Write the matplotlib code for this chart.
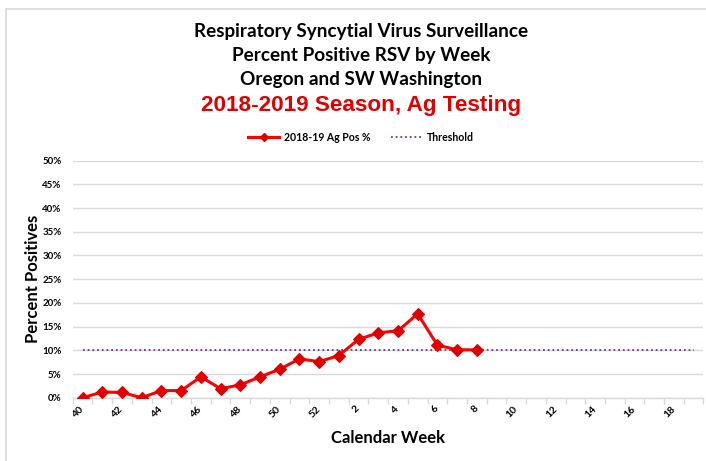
import matplotlib
matplotlib.use('Agg')
import matplotlib.pyplot as plt
from matplotlib.patches import Rectangle
from matplotlib.lines import Line2D
from matplotlib.ticker import FixedLocator, PercentFormatter
import numpy as np

weeks = list(range(40, 53)) + list(range(1, 20))
pos_pct = [0.0, 1.2, 1.1, 0.0, 1.5, 1.5, 4.4, 1.9, 2.7, 4.4, 6.0, 8.2, 7.6,
           8.9, 12.3, 13.7, 14.1, 17.7, 11.1, 10.1, 10.1]
threshold = 10.0
yticks = list(range(0, 51, 5))

plt.rcParams['font.family'] = ['Lato', 'DejaVu Sans']

fig = plt.figure(figsize=(7.06, 4.61), dpi=100)
W, H = 706, 461

# outer light border
fig.patches.append(Rectangle((5.5 / W, -0.1), 1.2, 1 - 8.5 / H + 0.1,
                             transform=fig.transFigure, fill=False,
                             ec='#d9d9d9', lw=1.2))

ax = fig.add_axes([72.7 / W, 1 - 397.7 / H, (703.5 - 72.7) / W, (397.7 - 160.7) / H])
x = np.arange(len(weeks))
ax.set_xlim(-0.5, len(weeks) - 0.5)
ax.set_ylim(0, 50)

ax.plot(x, [threshold] * len(weeks), color='#7030a0', lw=1.3,
        ls=(0, (1, 1.6)), zorder=2)
ax.plot(x[:len(pos_pct)], pos_pct, color='#ff0000', lw=2.2, marker='D',
        ms=6.3, mfc='#e00000', mec='#e00000', mew=0.8, zorder=3)

ax.set_yticks(yticks)
ax.yaxis.set_major_formatter(PercentFormatter(decimals=0))
ax.grid(axis='y', color='#d9d9d9', lw=1)
ax.set_axisbelow(True)
ax.tick_params(axis='y', length=0, pad=8, labelsize=7)
for lbl in ax.get_yticklabels():
    lbl.set_fontweight('bold')

ax.set_xticks(x[::2])
ax.set_xticklabels([str(w) for w in weeks[::2]], rotation=45, ha='right',
                   va='center', rotation_mode='anchor', fontsize=7.5,
                   fontweight='bold')
ax.tick_params(axis='x', which='major', length=0, pad=7)
ax.xaxis.set_minor_locator(FixedLocator(np.arange(-0.5, len(weeks), 1)))
ax.tick_params(axis='x', which='minor', length=4, color='#d9d9d9', width=1)

for s in ['top', 'right', 'left']:
    ax.spines[s].set_visible(False)
ax.spines['bottom'].set_color('#d9d9d9')
ax.spines['bottom'].set_linewidth(1)

ax.set_ylabel('Percent Positives', fontsize=12, fontweight='bold', labelpad=1)
ax.set_xlabel('Calendar Week', fontsize=12, fontweight='bold', labelpad=8)

cx = 361 / W
fig.text(cx, 1 - 31 / H, 'Respiratory Syncytial Virus Surveillance',
         ha='center', va='center', fontsize=13.6, fontweight='bold')
fig.text(cx, 1 - 55.5 / H, 'Percent Positive RSV by Week',
         ha='center', va='center', fontsize=13.6, fontweight='bold')
fig.text(cx, 1 - 80 / H, 'Oregon and SW Washington',
         ha='center', va='center', fontsize=13.6, fontweight='bold')
fig.text(cx, 1 - 105 / H, '2018-2019 Season, Ag Testing',
         ha='center', va='center', fontsize=16.2, fontweight='bold',
         color='#e00000', family=['Liberation Sans', 'DejaVu Sans'])

handles = [Line2D([], [], color='#ff0000', lw=2.2, marker='D', ms=4,
                  mfc='#e00000', mec='#e00000'),
           Line2D([], [], color='#7030a0', lw=1.3, ls=(0, (1, 1.6)))]
leg = fig.legend(handles, ['2018-19 Ag Pos %', 'Threshold'], ncol=2,
                 loc='center', bbox_to_anchor=(361 / W, 1 - 137 / H),
                 frameon=False, prop={'size': 7.6, 'weight': 'bold'},
                 handlelength=3.0, columnspacing=2.0, handletextpad=0.4)

fig.savefig('out.png', dpi=100)
